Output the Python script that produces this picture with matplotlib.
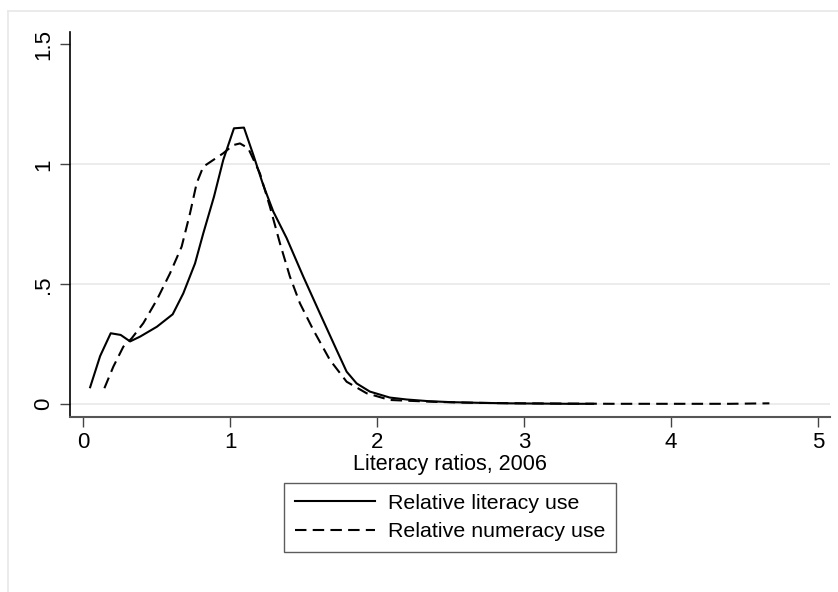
import matplotlib.pyplot as plt
from matplotlib.lines import Line2D

plt.rcParams['font.family'] = ['Liberation Sans', 'DejaVu Sans']

# kernel density of relative literacy use
lit_x = [0.046, 0.114, 0.186, 0.254, 0.318, 0.386, 0.50, 0.608, 0.68, 0.76, 0.816,
         0.889, 0.952, 1.025, 1.093, 1.157, 1.224, 1.293, 1.384, 1.497, 1.61,
         1.724, 1.792, 1.86, 1.95, 2.086, 2.2, 2.35, 2.5, 2.7, 2.9, 3.1, 3.3, 3.47]
lit_y = [0.071, 0.201, 0.296, 0.289, 0.262, 0.282, 0.323, 0.375, 0.462, 0.587, 0.712,
         0.865, 1.018, 1.15, 1.153, 1.039, 0.914, 0.803, 0.692, 0.532, 0.379,
         0.226, 0.136, 0.087, 0.053, 0.028, 0.02, 0.013, 0.009, 0.006, 0.004, 0.003, 0.002, 0.002]

# kernel density of relative numeracy use
num_x = [0.143, 0.204, 0.272, 0.329, 0.408, 0.50, 0.59, 0.669, 0.726, 0.771, 0.816,
         0.884, 0.952, 1.02, 1.066, 1.122, 1.202, 1.27, 1.338, 1.406, 1.474, 1.565,
         1.678, 1.792, 1.928, 2.086, 2.2, 2.4, 2.6, 2.8, 3.0, 3.3, 3.6, 4.0, 4.4, 4.67]
num_y = [0.067, 0.157, 0.24, 0.275, 0.338, 0.435, 0.546, 0.657, 0.796, 0.921, 0.99,
         1.018, 1.046, 1.08, 1.087, 1.067, 0.962, 0.823, 0.671, 0.532, 0.421, 0.31,
         0.185, 0.094, 0.046, 0.018, 0.015, 0.01, 0.007, 0.005, 0.004, 0.003, 0.002, 0.002, 0.002, 0.004]

x_ticks = [0, 1, 2, 3, 4, 5]
y_ticks = [0, 0.5, 1, 1.5]
y_labels = ['0', '.5', '1', '1.5']

fig = plt.figure(figsize=(8.38, 5.92), dpi=100)
ax = fig.add_axes([0.0832, 0.296, 0.9068, 0.6494])

# stata-style graph region outline
fig.add_artist(Line2D([7.5 / 838, 1], [1 - 10.5 / 592] * 2, color='#e8e8e8', lw=1.2))
fig.add_artist(Line2D([7.5 / 838] * 2, [0, 1 - 10.5 / 592], color='#e8e8e8', lw=1.2))

for g in [0, 0.5, 1]:
    ax.axhline(g, color='#eaeaea', lw=1.3, zorder=0)

ax.plot(lit_x, lit_y, color='black', lw=1.5, label='Relative literacy use')
ax.plot(num_x, num_y, color='black', lw=1.5, dashes=(5.5, 3), label='Relative numeracy use')

ax.set_xlim(-0.093, 5.08)
ax.set_ylim(-0.052, 1.55)
ax.set_xticks(x_ticks)
ax.set_xticklabels([str(t) for t in x_ticks])
ax.set_yticks(y_ticks)
ax.set_yticklabels(y_labels, rotation=90, va='center')

for s in ['top', 'right']:
    ax.spines[s].set_visible(False)
ax.spines['left'].set_color('black')
ax.spines['bottom'].set_color('#555555')
ax.spines['left'].set_linewidth(1.2)
ax.spines['bottom'].set_linewidth(1.5)
ax.tick_params(axis='both', length=7, width=1, color='#444444', labelsize=16, pad=4)

ax.set_xlabel('Literacy ratios, 2006', fontsize=15.5, labelpad=1)

leg = fig.legend(loc='upper center', bbox_to_anchor=(450 / 838, 1 - 483 / 592),
                 fontsize=15.4, frameon=True, fancybox=False, handlelength=3.75,
                 borderpad=0.5, handletextpad=0.6, labelspacing=0.45, borderaxespad=0)
leg.get_frame().set_edgecolor('#333333')
leg.get_frame().set_linewidth(1.0)

fig.savefig('out.png', dpi=100)
